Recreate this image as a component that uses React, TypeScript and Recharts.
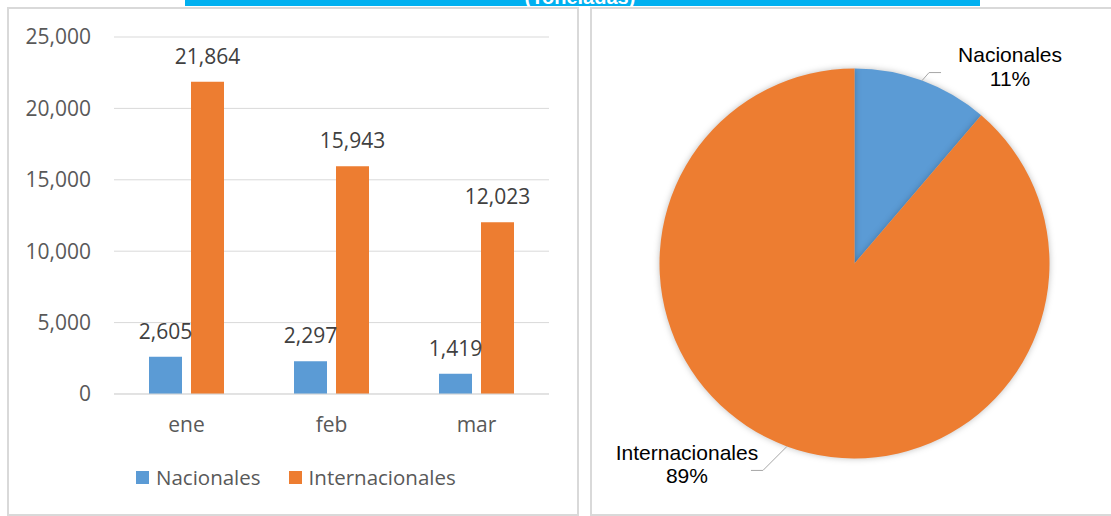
import React from 'react'
import {
  BarChart, Bar, XAxis, YAxis, CartesianGrid, LabelList, Legend,
  PieChart, Pie, Cell,
} from 'recharts'

const MONTHS = ['ene', 'feb', 'mar']
const NACIONALES = [2605, 2297, 1419]
const INTERNACIONALES = [21864, 15943, 12023]
const Y_TICKS = [0, 5000, 10000, 15000, 20000, 25000]
const SERIES = ['Nacionales', 'Internacionales']
const COLORS = ['#5B9BD5', '#ED7D31']

const monthly = MONTHS.map((month, i) => ({
  month,
  nacionales: NACIONALES[i],
  internacionales: INTERNACIONALES[i],
}))

const total = (list: number[]) => list.reduce((s, v) => s + v, 0)
const share = [
  { name: SERIES[0], value: total(NACIONALES) },
  { name: SERIES[1], value: total(INTERNACIONALES) },
]

const fmt = (v: any) => Number(v).toLocaleString('en-US')
const BODY = '"Open Sans", sans-serif'
const ARIAL = '"Liberation Sans", Arial, sans-serif'

// leader line (elbow offset from slice edge, horizontal run) and text offset per slice
const PIE_LABELS = [
  { ex: 7, ey: -8, run: 12, dx: 69 },
  { ex: -24, ey: 24, run: -12, dx: -64 },
]

function PieLabel(props: any) {
  const { cx, cy, midAngle, outerRadius, percent, name, index } = props
  const cfg = PIE_LABELS[index]
  const rad = -midAngle * Math.PI / 180
  const x0 = cx + outerRadius * Math.cos(rad)
  const y0 = cy + outerRadius * Math.sin(rad)
  const x1 = x0 + cfg.ex
  const y1 = y0 + cfg.ey
  const x2 = x1 + cfg.run
  return (
    <g>
      <polyline points={`${x0},${y0} ${x1},${y1} ${x2},${y1}`} fill="none" stroke="#a6a6a6" strokeWidth={1} />
      <text x={x2 + cfg.dx} y={y1 - 10.5} textAnchor="middle" fontSize={21} fontFamily={ARIAL} fill="#000">{name}</text>
      <text x={x2 + cfg.dx} y={y1 + 13} textAnchor="middle" fontSize={21} fontFamily={ARIAL} fill="#000">{`${Math.round(percent * 100)}%`}</text>
    </g>
  )
}

function BarLegend() {
  return (
    <div style={{ display: 'flex', alignItems: 'center', fontFamily: BODY, fontSize: 20.5, color: '#595959', lineHeight: '26px' }}>
      {SERIES.map((name, i) => (
        <div key={name} style={{ display: 'flex', alignItems: 'center', marginRight: 28 }}>
          <span style={{ width: 13, height: 13, background: COLORS[i], marginRight: 7, display: 'inline-block' }} />
          <span>{name}</span>
        </div>
      ))}
    </div>
  )
}

export default function App() {
  const panel = {
    position: 'absolute' as const,
    top: 7,
    height: 509,
    border: '2px solid #D9D9D9',
    boxSizing: 'border-box' as const,
    background: '#fff',
  }
  return (
    <div style={{ position: 'absolute', left: 0, top: 0, width: 1111, height: 516, overflow: 'hidden', background: '#fff', fontFamily: BODY }}>
      <div style={{ ...panel, left: 7, width: 572 }} />
      <div style={{ ...panel, left: 590, width: 521, borderRight: 'none' }} />
      <div style={{ position: 'absolute', left: 185, top: 0, width: 795, height: 6, background: '#00B0F0', overflow: 'hidden' }}>
        <div style={{ position: 'absolute', left: 0, width: 790, top: -13, textAlign: 'center', color: '#fff', fontFamily: ARIAL, fontWeight: 700, fontSize: 20, lineHeight: '20px' }}>
          (Toneladas)
        </div>
      </div>

      <div style={{ position: 'absolute', left: 0, top: 0 }}>
        <BarChart width={580} height={516} data={monthly} barSize={33} barGap={9}
          margin={{ top: 37, right: 31, bottom: 92, left: 54 }}>
          <CartesianGrid vertical={false} stroke="#D9D9D9" />
          <XAxis dataKey="month" height={30} tickLine={false} axisLine={{ stroke: '#D9D9D9' }} tickMargin={17}
            tick={{ fontSize: 21, fill: '#595959', fontFamily: BODY }} />
          <YAxis width={60} domain={[0, 25000]} ticks={Y_TICKS} interval={0} axisLine={false} tickLine={false}
            tickMargin={17} tickFormatter={fmt} tick={{ fontSize: 21, fill: '#595959', fontFamily: BODY }} />
          <Legend layout="horizontal" verticalAlign="middle" align="center" content={BarLegend}
            wrapperStyle={{ left: 136, top: 464, width: 'auto' }} />
          <Bar dataKey="nacionales" name={SERIES[0]} fill={COLORS[0]} isAnimationActive={false}>
            <LabelList dataKey="nacionales" position="top" offset={18} formatter={fmt}
              style={{ fontSize: 21, fill: '#404040', fontFamily: BODY }} />
          </Bar>
          <Bar dataKey="internacionales" name={SERIES[1]} fill={COLORS[1]} isAnimationActive={false}>
            <LabelList dataKey="internacionales" position="top" offset={18} formatter={fmt}
              style={{ fontSize: 21, fill: '#404040', fontFamily: BODY }} />
          </Bar>
        </BarChart>
      </div>

      <style>{`.pie-box .recharts-pie-sector { filter: drop-shadow(0 0 3px rgba(0,0,0,0.25)); }`}</style>
      <div className="pie-box" style={{ position: 'absolute', left: 591, top: 0 }}>
        <PieChart width={520} height={516} margin={{ top: 0, right: 0, bottom: 0, left: 0 }}>
          <Pie data={share} dataKey="value" nameKey="name" cx={263.5} cy={263.5} outerRadius={195}
            startAngle={90} endAngle={-270} stroke="none" label={PieLabel} labelLine={false}
            isAnimationActive={false}>
            {share.map((s, i) => <Cell key={s.name} fill={COLORS[i]} />)}
          </Pie>
        </PieChart>
      </div>
    </div>
  )
}
